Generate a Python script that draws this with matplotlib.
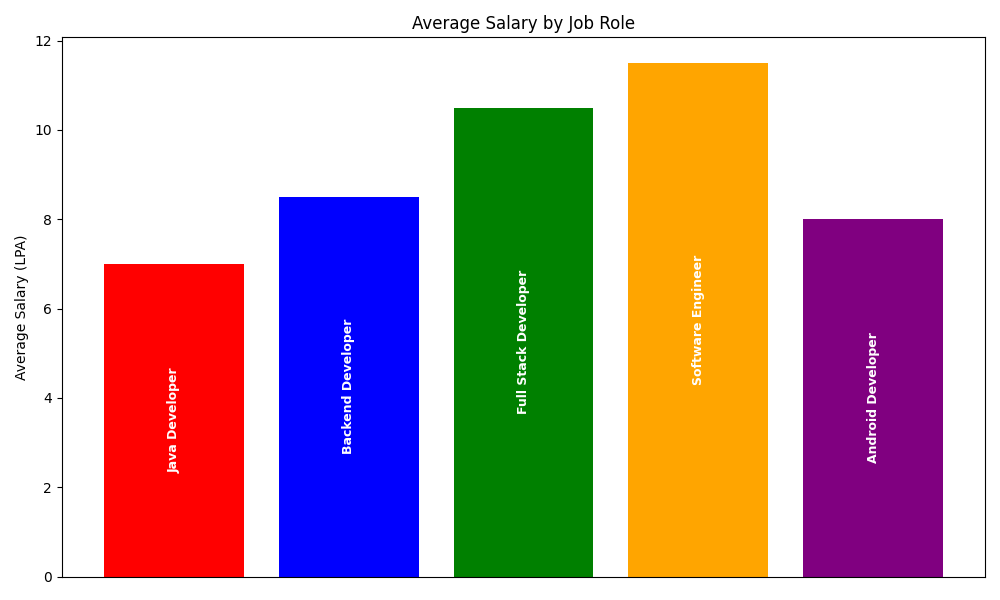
import matplotlib
matplotlib.use('Agg')
import matplotlib.pyplot as plt

roles = ['Java Developer', 'Backend Developer', 'Full Stack Developer', 'Software Engineer', 'Android Developer']
salaries = [7, 8.5, 10.5, 11.5, 8]
colors = ['red', 'blue', 'green', 'orange', 'purple']

fig, ax = plt.subplots(figsize=(10, 6), dpi=100)
bars = ax.bar(roles, salaries, color=colors)

for bar, role in zip(bars, roles):
    ax.text(bar.get_x() + bar.get_width() / 2, bar.get_height() / 2, role,
            ha='center', va='center', rotation=90, color='white',
            fontsize=9, fontweight='bold')

ax.set_title('Average Salary by Job Role')
ax.set_ylabel('Average Salary (LPA)')
ax.set_xticks([])

plt.tight_layout()
plt.savefig('out.png')
